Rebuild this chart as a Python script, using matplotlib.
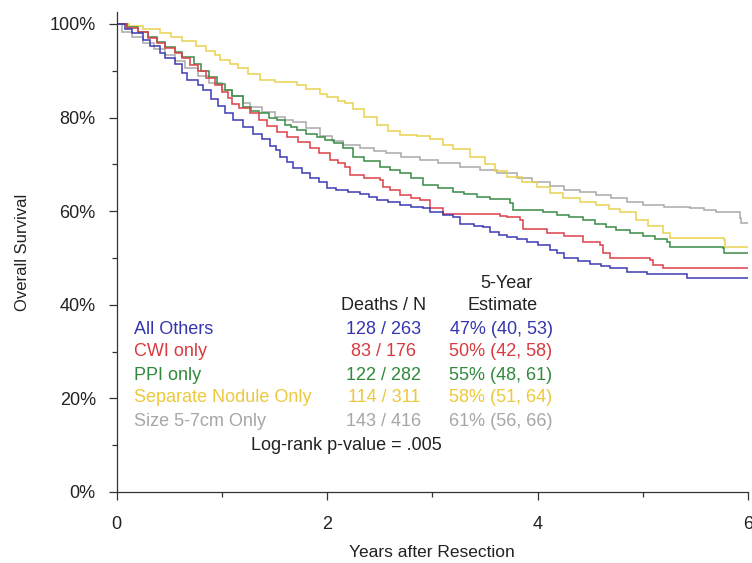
import matplotlib
matplotlib.use('Agg')
import matplotlib.pyplot as plt
from matplotlib.ticker import FuncFormatter

plt.rcParams['font.family'] = ['Liberation Sans', 'DejaVu Sans']

# ---------------- data ----------------
groups = ["All Others", "CWI only", "PPI only", "Separate Nodule Only", "Size 5-7cm Only"]
deaths_n = ["128 / 263", "83 / 176", "122 / 282", "114 / 311", "143 / 416"]
estimates = ["47% (40, 53)", "50% (42, 58)", "55% (48, 61)", "58% (51, 64)", "61% (56, 66)"]
line_colors = ["#3c3cb4", "#dc4048", "#3a8c46", "#e8d250", "#a9a9a9"]
text_colors = ["#3535b0", "#d83a40", "#2f8a3c", "#ecc83c", "#a6a6a6"]

all_others = [(0, 100), (0.08, 99.0), (0.15, 98.0), (0.25, 96.6), (0.32, 95.2), (0.41, 93.7),
              (0.46, 92.7), (0.55, 91.5), (0.62, 89.5), (0.67, 88.0), (0.77, 87.0), (0.82, 86.0),
              (0.90, 84.0), (0.96, 82.5), (1.03, 81.0), (1.11, 79.5), (1.20, 78.0), (1.30, 76.6),
              (1.38, 75.5), (1.46, 74.0), (1.51, 73.0), (1.55, 71.6), (1.62, 70.5), (1.68, 69.2),
              (1.76, 68.2), (1.84, 67.2), (1.92, 66.3), (2.00, 65.0), (2.08, 64.5), (2.20, 64.0),
              (2.31, 63.6), (2.40, 63.0), (2.47, 62.4), (2.58, 62.0), (2.69, 61.3), (2.80, 61.0),
              (2.91, 60.6), (2.98, 59.9), (3.10, 59.2), (3.20, 58.8), (3.26, 57.2), (3.40, 56.9),
              (3.48, 56.6), (3.55, 55.6), (3.63, 55.0), (3.71, 54.5), (3.80, 54.0), (3.90, 53.5),
              (4.00, 52.8), (4.12, 51.7), (4.18, 51.0), (4.25, 49.9), (4.38, 49.3), (4.50, 48.8),
              (4.60, 48.2), (4.69, 47.8), (4.85, 47.1), (5.04, 46.6), (5.42, 45.7), (6.00, 45.7)]

cwi_only = [(0, 100), (0.10, 99.2), (0.20, 98.2), (0.30, 97.0), (0.38, 96.0), (0.46, 94.9),
            (0.55, 93.8), (0.62, 92.7), (0.70, 91.2), (0.77, 89.9), (0.85, 88.5), (0.93, 87.0),
            (1.00, 85.5), (1.06, 84.2), (1.10, 83.0), (1.16, 82.0), (1.27, 80.9), (1.35, 79.5),
            (1.43, 78.1), (1.52, 77.0), (1.62, 75.9), (1.72, 74.8), (1.84, 73.6), (1.92, 72.4),
            (2.03, 71.0), (2.10, 70.2), (2.17, 69.5), (2.22, 67.7), (2.35, 67.2), (2.50, 66.7),
            (2.53, 65.2), (2.60, 64.5), (2.69, 63.5), (2.80, 62.8), (2.88, 62.4), (2.98, 60.6),
            (3.10, 59.5), (3.64, 59.0), (3.71, 58.8), (3.83, 58.1), (3.86, 56.3), (3.93, 56.1),
            (4.09, 55.3), (4.25, 54.6), (4.43, 53.5), (4.59, 52.8), (4.62, 51.0), (4.69, 49.9),
            (5.07, 49.6), (5.10, 48.5), (5.19, 47.8), (6.00, 47.8)]

ppi_only = [(0, 100), (0.10, 99.3), (0.20, 98.3), (0.30, 97.2), (0.38, 96.2), (0.46, 95.0),
            (0.55, 94.0), (0.62, 92.9), (0.73, 91.5), (0.80, 90.0), (0.88, 88.6), (0.95, 87.2),
            (1.03, 85.9), (1.10, 84.6), (1.20, 82.3), (1.28, 81.5), (1.35, 80.9), (1.45, 80.0),
            (1.52, 79.5), (1.60, 78.5), (1.66, 78.0), (1.71, 77.4), (1.80, 76.6), (1.90, 75.9),
            (1.98, 75.2), (2.07, 74.5), (2.15, 73.5), (2.25, 71.6), (2.35, 70.8), (2.50, 69.5),
            (2.60, 68.9), (2.69, 68.2), (2.80, 67.0), (2.91, 65.6), (3.05, 65.0), (3.20, 64.2),
            (3.30, 63.6), (3.42, 63.1), (3.55, 62.6), (3.74, 61.7), (3.77, 60.3), (3.93, 60.2),
            (4.05, 59.8), (4.18, 59.2), (4.30, 58.7), (4.43, 58.1), (4.55, 57.2), (4.65, 56.6),
            (4.75, 56.0), (4.88, 55.3), (5.00, 54.6), (5.12, 54.0), (5.23, 53.5), (5.26, 52.4),
            (5.76, 52.1), (5.77, 51.0), (6.00, 51.0)]

separate_nodule = [(0, 100), (0.12, 99.6), (0.25, 99.0), (0.41, 98.0), (0.52, 97.3), (0.62, 96.3),
                   (0.75, 95.3), (0.85, 94.3), (0.93, 93.4), (0.98, 92.3), (1.08, 91.4), (1.15, 90.6),
                   (1.25, 89.3), (1.36, 88.0), (1.50, 87.6), (1.71, 87.0), (1.80, 86.2), (1.93, 85.0),
                   (2.00, 84.5), (2.10, 83.6), (2.17, 83.1), (2.25, 81.8), (2.35, 80.2), (2.47, 78.4),
                   (2.58, 77.2), (2.69, 76.3), (2.85, 76.0), (2.98, 75.5), (3.10, 74.2), (3.20, 73.2),
                   (3.36, 71.6), (3.50, 70.0), (3.60, 68.6), (3.71, 67.4), (3.85, 66.3), (3.99, 65.2),
                   (4.12, 63.9), (4.24, 62.8), (4.40, 62.0), (4.56, 61.3), (4.68, 60.5), (4.78, 59.9),
                   (4.94, 58.1), (5.05, 56.8), (5.19, 55.3), (5.26, 54.3), (5.77, 53.8), (5.78, 52.4),
                   (6.00, 52.4)]

size_5_7cm = [(0, 100), (0.05, 98.2), (0.15, 97.2), (0.25, 96.0), (0.35, 94.7), (0.46, 93.3),
              (0.55, 92.0), (0.65, 90.5), (0.77, 88.9), (0.88, 87.4), (1.00, 86.0), (1.10, 84.6),
              (1.20, 83.2), (1.27, 82.3), (1.38, 81.2), (1.50, 80.2), (1.60, 79.5), (1.68, 79.0),
              (1.80, 77.8), (1.93, 76.0), (2.05, 75.0), (2.15, 74.2), (2.31, 73.4), (2.45, 72.8),
              (2.56, 72.4), (2.70, 71.6), (2.88, 70.9), (3.05, 70.3), (3.26, 69.5), (3.45, 68.8),
              (3.61, 68.1), (3.80, 67.0), (3.95, 66.3), (4.12, 65.4), (4.25, 64.5), (4.40, 64.0),
              (4.56, 63.5), (4.70, 62.8), (4.85, 62.0), (5.00, 61.3), (5.20, 60.9), (5.45, 60.6),
              (5.58, 60.2), (5.70, 59.9), (5.92, 58.5), (5.93, 57.4), (6.00, 57.4)]

curves = [all_others, cwi_only, ppi_only, separate_nodule, size_5_7cm]

x_major = [0, 2, 4, 6]
x_minor = [1, 3, 5]
y_major = [0, 20, 40, 60, 80, 100]
y_minor = [10, 30, 50, 70, 90]

# ---------------- figure ----------------
W, H = 752, 563
fig = plt.figure(figsize=(W / 100, H / 100), dpi=100)

def fx(px):
    return px / W

def fy(py):
    return 1 - py / H

ax_left, ax_right, ax_bottom, ax_top = 116.7, 748.0, 492.0, 12.0
ax = fig.add_axes([fx(ax_left), fy(ax_bottom), (ax_right - ax_left) / W, (ax_bottom - ax_top) / H])

# draw in reverse so the blue curve sits on top
for curve, col in reversed(list(zip(curves, line_colors))):
    t = [p[0] for p in curve]
    s = [p[1] for p in curve]
    ax.step(t, s, where='post', color=col, lw=1.1, solid_joinstyle='miter')

ax.set_xlim(0, 6)
ax.set_ylim(0, (ax_bottom - ax_top) / 4.68)
ax.set_xticks(x_major)
ax.set_xticks(x_minor, minor=True)
ax.set_yticks(y_major)
ax.set_yticks(y_minor, minor=True)
ax.yaxis.set_major_formatter(FuncFormatter(lambda v, p: f"{v:.0f}%"))
for sp in ['top', 'right']:
    ax.spines[sp].set_visible(False)
for sp in ['left', 'bottom']:
    ax.spines[sp].set_color('#333333')
    ax.spines[sp].set_linewidth(0.9)
ax.tick_params(axis='both', which='major', length=6, width=0.9, color='#333333',
               labelsize=13, labelcolor='#222222')
ax.tick_params(axis='both', which='minor', length=3.5, width=0.9, color='#333333')
ax.tick_params(axis='y', which='major', pad=9)
ax.tick_params(axis='x', which='major', pad=11)

ax.set_xlabel("Years after Resection", fontsize=12.5, color='#222222', labelpad=9)
ax.set_ylabel("Overall Survival", fontsize=12, color='#222222', labelpad=14)

# ---------------- in-plot table ----------------
fs = 13
fig.text(fx(506), fy(284), "5-Year", fontsize=fs, ha='center', va='center', color='#222222')
fig.text(fx(384), fy(306), "Deaths / N", fontsize=fs, ha='center', va='center', color='#222222')
fig.text(fx(503), fy(306), "Estimate", fontsize=fs, ha='center', va='center', color='#222222')
row_y = [329, 352, 375, 398, 421]
for name, dn, est, col, yy in zip(groups, deaths_n, estimates, text_colors, row_y):
    fig.text(fx(134), fy(yy), name, fontsize=fs, ha='left', va='center', color=col)
    fig.text(fx(384), fy(yy), dn, fontsize=fs, ha='center', va='center', color=col)
    fig.text(fx(501), fy(yy), est, fontsize=fs, ha='center', va='center', color=col)
fig.text(fx(346), fy(445), "Log-rank p-value = .005", fontsize=fs, ha='center', va='center',
         color='#222222')

fig.savefig("out.png", dpi=100)
